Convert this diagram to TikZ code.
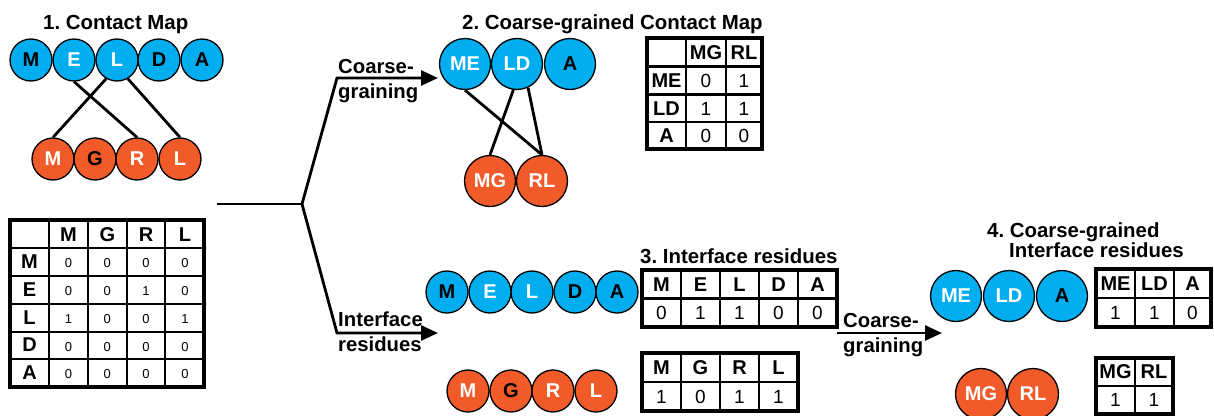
\documentclass[tikz,border=0pt]{standalone}
\usepackage{fontspec}
\setmainfont{Liberation Sans}
\usetikzlibrary{arrows.meta}
\definecolor{cblue}{HTML}{00AEEF}
\definecolor{cred}{HTML}{F15A29}
\frenchspacing
\begin{document}
\begin{tikzpicture}[x=1pt,y=-1pt,
  res/.style={circle, draw=black, line width=1.3pt, minimum size=42pt, inner sep=0pt, font=\fontsize{20}{24}\selectfont\bfseries},
  bres/.style={res, fill=cblue},
  rres/.style={res, fill=cred},
  big/.style={minimum size=51pt},
  wt/.style={text=white},
  link/.style={line width=2.8pt},
  flow/.style={line width=2.8pt, -{Triangle[length=17pt,width=15pt]}},
  lbl/.style={font=\fontsize{20.3}{25}\selectfont\bfseries, align=left, inner sep=0pt},
  ttl/.style={font=\fontsize{20.4}{20.5}\selectfont\bfseries, inner sep=0pt},
  hd/.style={font=\fontsize{20}{24}\selectfont\bfseries, inner sep=0pt},
  val/.style={font=\fontsize{19}{24}\selectfont, inner sep=0pt},
  sval/.style={font=\fontsize{13}{16}\selectfont, inner sep=0pt},
  gridline/.style={line width=2.8pt},
  frame/.style={line width=3.4pt}
]
\useasboundingbox (0,0) rectangle (1214,415);

% ---------- Panel 1 ----------
\node[ttl, anchor=base west] (ttl1) at (43,29) {1. Contact Map};
\node[bres] (m1) at (31,60) {M};
\node[bres, wt] (e1) at (74,60) {E};
\node[bres, wt] (l1) at (117,60) {L};
\node[bres] (d1) at (159,60) {D};
\node[bres] (a1) at (202,60) {A};
\node[rres, wt] (m1b) at (53,159) {M};
\node[rres] (g1b) at (95,159) {G};
\node[rres, wt] (r1b) at (137,159) {R};
\node[rres, wt] (l1b) at (180,159) {L};
\draw[link] (e1.south) -- (r1b.north);
\draw[link] (l1.-120) -- (m1b.north);
\draw[link] (l1.-60) -- (l1b.north);

% table 1
\foreach \x in {49,88,127,165} \draw[gridline] (\x,220) -- (\x,387);
\foreach \y in {248,276,304,332,359} \draw[gridline] (10,\y) -- (204,\y);
\draw[frame] (10,220) rectangle (204,387);
\foreach \t [count=\i] in {M,G,R,L}
  \node[hd] (t1h\i) at ({68.5+38.8*(\i-1)},234.5) {\t};
\foreach \r/\a/\b/\c/\d [count=\j] in {M/0/0/0/0,E/0/0/1/0,L/1/0/0/1,D/0/0/0/0,A/0/0/0/0}{
  \pgfmathsetmacro{\yy}{220+27.8*(\j+0.5)}
  \node[hd] (t1r\j) at (29.5,\yy) {\r};
  \node[sval] (t1v\j a) at (68.5,\yy+1.5) {\a};
  \node[sval] (t1v\j b) at (107.3,\yy+1.5) {\b};
  \node[sval] (t1v\j c) at (146.1,\yy+1.5) {\c};
  \node[sval] (t1v\j d) at (184.9,\yy+1.5) {\d};
}

% ---------- branching arrows ----------
\coordinate (src) at (217,204);
\coordinate (fork) at (302,204);
\coordinate (upbend) at (337,78);
\coordinate (uptip) at (438,78);
\coordinate (lowbend) at (337,333);
\coordinate (lowtip) at (438,333);
\draw[link] (src) -- (fork);
\draw[flow] (fork) -- (upbend) -- (uptip);
\draw[flow] (fork) -- (lowbend) -- (lowtip);
\node[lbl, anchor=west] (lcg1) at (338,81.5) {Coarse-\\graining};
\node[lbl, anchor=west] (lir) at (338,332) {Interface\\residues};

% ---------- Panel 2 ----------
\node[ttl, anchor=base west] (ttl2) at (462,29.5) {2. Coarse-grained Contact Map};
\node[bres, big, wt] (me2) at (465,64) {ME};
\node[bres, big, wt] (ld2) at (517,64) {LD};
\node[bres, big] (a2) at (570,64) {A};
\node[rres, big, wt] (mg2) at (490,181) {MG};
\node[rres, big, wt] (rl2) at (542,181) {RL};
\draw[link] (me2.south) -- (rl2.north);
\draw[link] (ld2.-98) -- (mg2.north);
\draw[link] (ld2.-65) -- (rl2.north);

% table 2
\foreach \x in {686,726} \draw[gridline] (\x,38) -- (\x,149);
\foreach \y in {66.5,94.5,122} \draw[gridline] (647,\y) -- (762,\y);
\draw[frame] (647,38) rectangle (762,149);
\node[hd] (t2h1) at (706,52.5) {MG};
\node[hd] (t2h2) at (744,52.5) {RL};
\node[hd] (t2r1) at (666.5,80.5) {ME};
\node[hd] (t2r2) at (666.5,108.5) {LD};
\node[hd] (t2r3) at (666.5,135.5) {A};
\node[val] (t2v11) at (706,80.5) {0};
\node[val] (t2v12) at (744,80.5) {1};
\node[val] (t2v21) at (706,108.5) {1};
\node[val] (t2v22) at (744,108.5) {1};
\node[val] (t2v31) at (706,135.5) {0};
\node[val] (t2v32) at (744,135.5) {0};

% ---------- Panel 3 ----------
\node[ttl, anchor=base west] (ttl3) at (640,263.5) {3. Interface residues};
\node[bres] (m3) at (447,292) {M};
\node[bres, wt] (e3) at (490,292) {E};
\node[bres, wt] (l3) at (532,292) {L};
\node[bres] (d3) at (575,292) {D};
\node[bres] (a3) at (617,292) {A};
\node[rres, wt] (m3b) at (468,391) {M};
\node[rres] (g3b) at (511,391) {G};
\node[rres, wt] (r3b) at (553,391) {R};
\node[rres, wt] (l3b) at (596,391) {L};

% table 3
\foreach \x in {681,720,759,798} \draw[gridline] (\x,270) -- (\x,327);
\draw[gridline] (642,298.5) -- (837,298.5);
\draw[frame] (642,270) rectangle (837,327);
\foreach \t/\v [count=\i] in {M/0,E/1,L/1,D/0,A/0}{
  \node[hd] (t3h\i) at ({661.5+39*(\i-1)},284.5) {\t};
  \node[val] (t3v\i) at ({661.5+39*(\i-1)},313) {\v};
}
% table 3b
\foreach \x in {681,720,759} \draw[gridline] (\x,353) -- (\x,411);
\draw[gridline] (642,382) -- (798,382);
\draw[frame] (642,353) rectangle (798,411);
\foreach \t/\v [count=\i] in {M/1,G/0,R/1,L/1}{
  \node[hd] (t3bh\i) at ({661.5+39*(\i-1)},367.5) {\t};
  \node[val] (t3bv\i) at ({661.5+39*(\i-1)},396.5) {\v};
}

% arrow 3 -> 4
\coordinate (cgstart) at (837,333);
\coordinate (cgtip) at (942,333);
\draw[flow] (cgstart) -- (cgtip);
\node[lbl, anchor=west] (lcg2) at (843,335) {Coarse-\\graining};

% ---------- Panel 4 ----------
\node[ttl, anchor=base west, align=left] (ttl4) at (987,257.5) {4. Coarse-grained\\\hspace*{22pt}Interface residues};
\node[bres, big, wt] (me4) at (956,296) {ME};
\node[bres, big, wt] (ld4) at (1009,296) {LD};
\node[bres, big] (a4) at (1062,296) {A};
\node[rres, big, wt] (mg4) at (981,394) {MG};
\node[rres, big, wt] (rl4) at (1033,394) {RL};

% table 4
\foreach \x in {1135,1174} \draw[gridline] (\x,269) -- (\x,327);
\draw[gridline] (1096,298) -- (1211,298);
\draw[frame] (1096,269) rectangle (1211,327);
\node[hd] (t4h1) at (1115.5,283.5) {ME};
\node[hd] (t4h2) at (1154.5,283.5) {LD};
\node[hd] (t4h3) at (1192.5,283.5) {A};
\node[val] (t4v1) at (1115.5,312.5) {1};
\node[val] (t4v2) at (1154.5,312.5) {1};
\node[val] (t4v3) at (1192.5,312.5) {0};
% table 4b
\draw[gridline] (1135,358) -- (1135,414);
\draw[gridline] (1096,386) -- (1173,386);
\draw[frame] (1096,358) rectangle (1173,414);
\node[hd] (t4bh1) at (1115.5,372) {MG};
\node[hd] (t4bh2) at (1154,372) {RL};
\node[val] (t4bv1) at (1115.5,400) {1};
\node[val] (t4bv2) at (1154,400) {1};
\end{tikzpicture}
\end{document}
